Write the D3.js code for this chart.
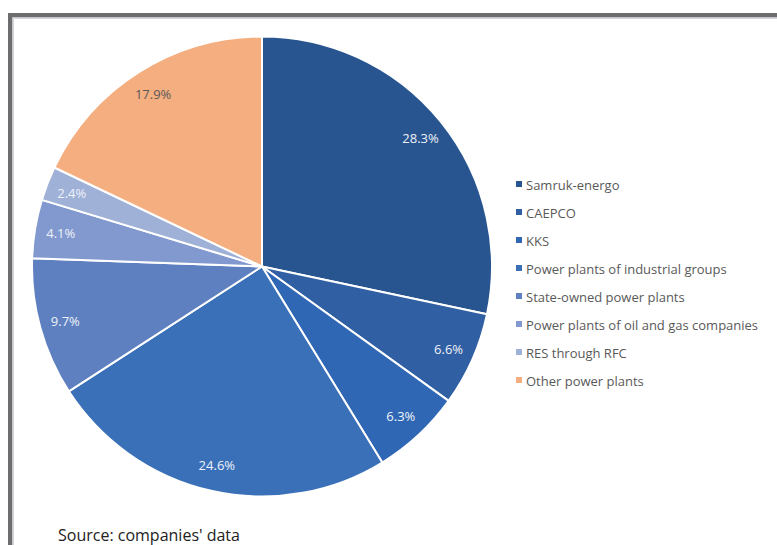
<!DOCTYPE html>
<html><head><meta charset="utf-8">
<script src="https://cdn.jsdelivr.net/npm/d3@7"></script>
<style>body{margin:0;background:#fff;}svg{display:block;}</style>
</head><body>
<script>
const categories = ["Samruk-energo","CAEPCO","KKS","Power plants of industrial groups","State-owned power plants","Power plants of oil and gas companies","RES through RFC","Other power plants"];
const values = [28.3, 6.6, 6.3, 24.6, 9.7, 4.1, 2.4, 17.9];
const colors = ["#285590","#305fa3","#2f67b5","#3a70b8","#5f80c0","#8299d0","#a0b1d8","#f5ae80"];
const labelColors = ["#eef2f8","#eef2f8","#eef2f8","#eef2f8","#eef2f8","#eef2f8","#eef2f8","#595959"];

const W = 777, H = 545;
const FONT = "'Open Sans', 'Liberation Sans', sans-serif";
const svg = d3.select("body").append("svg").attr("width", W).attr("height", H);

// frame
svg.append("rect").attr("x", 8).attr("y", 13).attr("width", W - 8).attr("height", 4.5).attr("fill", "#6d6d70");
svg.append("rect").attr("x", 8).attr("y", 13).attr("width", 4.5).attr("height", H - 13).attr("fill", "#6d6d70");
svg.append("rect").attr("x", 12.5).attr("y", 17.5).attr("width", W - 12.5).attr("height", 1.5).attr("fill", "#d3d7db");
svg.append("rect").attr("x", 12.5).attr("y", 17.5).attr("width", 1.5).attr("height", H - 17.5).attr("fill", "#d3d7db");

const cx = 262, cy = 266.5, r = 230;
const g = svg.append("g").attr("transform", `translate(${cx},${cy})`);
const data = categories.map((c, i) => ({c, v: values[i], i}));
const pie = d3.pie().value(d => d.v).sort(null);
const arc = d3.arc().innerRadius(0).outerRadius(r);
const labelArc = d3.arc().innerRadius(204).outerRadius(204);
const arcs = pie(data);

g.selectAll("path").data(arcs).join("path")
  .attr("d", arc).attr("fill", d => colors[d.data.i])
  .attr("stroke", "#fff").attr("stroke-width", 2).attr("stroke-linejoin", "round");

g.selectAll("text").data(arcs).join("text")
  .attr("transform", d => `translate(${labelArc.centroid(d)})`)
  .attr("text-anchor", "middle").attr("dominant-baseline", "central")
  .attr("font-family", FONT).attr("font-size", 13)
  .attr("fill", d => labelColors[d.data.i])
  .text(d => d.data.v.toFixed(1) + "%");

// legend
const lg = svg.append("g");
const rows = lg.selectAll("g").data(data).join("g")
  .attr("transform", (d, i) => `translate(516,${184 + i * 28})`);
rows.append("rect").attr("x", 0).attr("y", -3).attr("width", 6).attr("height", 6).attr("fill", d => colors[d.i]);
rows.append("text").attr("x", 10).attr("y", 0.5).attr("dominant-baseline", "central")
  .attr("font-family", FONT).attr("font-size", 13)
  .attr("fill", "#595959").text(d => d.c);

svg.append("text").attr("x", 58).attr("y", 541)
  .attr("font-family", FONT).attr("font-size", 16)
  .attr("fill", "#222").text("Source: companies' data");
</script>
</body></html>
